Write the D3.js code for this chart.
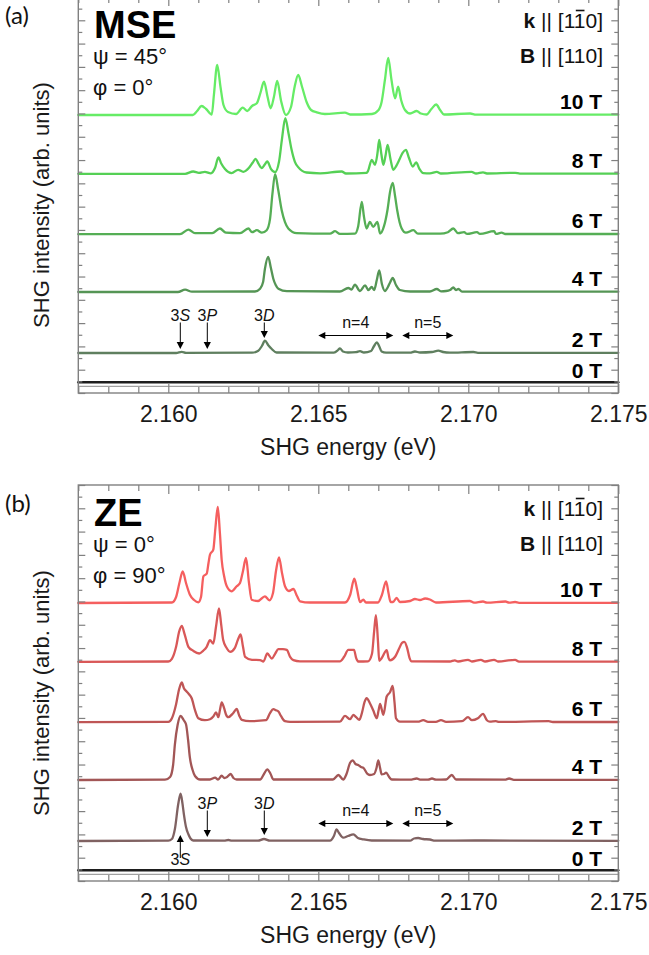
<!DOCTYPE html>
<html><head><meta charset="utf-8">
<script src="https://cdn.jsdelivr.net/npm/d3@7"></script>
<style>body{margin:0;background:#fff}svg{display:block}</style>
</head><body>
<svg id="c" width="649" height="955"></svg>
<script>
// ---------------- DATA ----------------
const fieldLabels = ["0 T","2 T","4 T","6 T","8 T","10 T"];
const offsets = [10.7, 40, 101, 158.8, 219.2, 278];   // vertical stacking offsets (arb. units)
const xTickValues = [2.160, 2.165, 2.170, 2.175];
const xTickLabels = ["2.160","2.165","2.170","2.175"];
const mseColors = ["#1e1e1e","#5f7f5f","#559555","#55ae55","#55d055","#66ec66"];
const zeColors  = ["#1e1e1e","#806262","#a25656","#bf5656","#d95858","#f55f5f"];

// Panel (a) MSE spectra  [energy eV, intensity arb.u.]
const mse0 = [[2.157,0],[2.175,0]];
const mse2 = [[2.1570,0],[2.16026,0],[2.16045,1.2],[2.16059,0.2],[2.16279,0.3],[2.16300,2.3],[2.16312,7],[2.16322,12.3],[2.16334,7.5],[2.16345,4],[2.16361,0.5],[2.16552,0.3],[2.16566,3],[2.16572,4.7],[2.16582,1.5],[2.16599,0.5],[2.16626,0.8],[2.16639,1.8],[2.16652,0.5],[2.16676,2],[2.16686,7],[2.16695,10.7],[2.16704,6],[2.16711,1.5],[2.16726,0.3],[2.16806,0.3],[2.16822,1.5],[2.16839,0.5],[2.16879,1],[2.16900,2.3],[2.16916,1],[2.16939,0.3],[2.17017,1],[2.17032,0.2],[2.1750,0.2]];
const mse4 = [[2.1570,0],[2.16032,0],[2.16056,2.3],[2.16079,0.3],[2.16289,0.5],[2.16306,3.3],[2.16316,10],[2.16322,23],[2.16333,35],[2.16342,24],[2.16350,13.3],[2.16358,7],[2.16367,3.3],[2.16395,0.8],[2.16572,0.5],[2.16600,4],[2.16611,2.5],[2.16622,7.3],[2.16639,1],[2.16656,6.7],[2.16667,2],[2.16678,5],[2.16686,2],[2.16695,12],[2.16703,21.7],[2.16712,8],[2.16722,1],[2.16732,5],[2.16740,10],[2.16748,14],[2.16759,7],[2.16772,2],[2.16806,0.5],[2.16872,0.5],[2.16895,3],[2.16909,0.7],[2.16926,1],[2.16939,2],[2.16950,4.5],[2.16959,2],[2.16967,3],[2.16979,0.3],[2.1750,0.3]];
const mse6 = [[2.1570,0],[2.16039,0],[2.16067,4.5],[2.16089,1],[2.16146,1],[2.16172,5.7],[2.16192,1.5],[2.16239,1],[2.16267,5.7],[2.16279,2],[2.16295,4],[2.16312,1.5],[2.16328,4],[2.16339,15],[2.16347,40],[2.16356,60],[2.16366,45],[2.16378,24],[2.16389,12],[2.16400,5.7],[2.16428,1],[2.16539,0.5],[2.16556,3],[2.16572,0.3],[2.16622,0.5],[2.16633,8],[2.16645,32.3],[2.16652,18],[2.16661,5.7],[2.16672,12.3],[2.16683,7.3],[2.16697,12.3],[2.16706,0.7],[2.16719,8],[2.16731,25],[2.16739,42],[2.16748,51.3],[2.16756,38],[2.16763,24],[2.16771,12],[2.16778,5.7],[2.16792,1.5],[2.16817,4],[2.16832,0.5],[2.16906,0.5],[2.16932,2],[2.16950,5.7],[2.16966,1],[2.16986,2],[2.16996,0.3],[2.17029,2],[2.17039,0.3],[2.17086,3],[2.17092,0.3],[2.17111,1.5],[2.17122,0.2],[2.1750,0.2]];
const mse8 = [[2.1570,0],[2.16056,0],[2.16083,2.3],[2.16102,1],[2.16122,2],[2.16142,0.5],[2.16156,6],[2.16167,16.3],[2.16177,10],[2.16189,4.7],[2.16211,0.7],[2.16233,4],[2.16250,2],[2.16269,6],[2.16281,11],[2.16291,15],[2.16301,10],[2.16311,5.7],[2.16321,9],[2.16330,12.3],[2.16342,5],[2.16356,1.7],[2.16369,12],[2.16379,35],[2.16390,55.7],[2.16401,40],[2.16411,24],[2.16422,12],[2.16433,6.7],[2.16461,1.3],[2.16506,0.5],[2.16578,2.3],[2.16592,0.3],[2.16661,1],[2.16666,3],[2.16678,14],[2.16689,9],[2.16697,20],[2.16703,34],[2.16710,20],[2.16717,9],[2.16724,18],[2.16731,29],[2.16741,14],[2.16750,4],[2.16760,8],[2.16770,14],[2.16781,21],[2.16792,24],[2.16802,16],[2.16815,7.3],[2.16826,11.3],[2.16837,5],[2.16850,0.7],[2.16872,0.5],[2.16895,2],[2.16909,0.3],[2.17011,2],[2.17026,0.3],[2.17049,1.5],[2.17062,0.3],[2.17156,1],[2.17172,0.2],[2.1750,0.2]];
const mse10 = [[2.1570,0],[2.16082,0],[2.16096,4],[2.16111,9],[2.16126,6],[2.16145,0.5],[2.16152,20],[2.16163,50],[2.16174,28],[2.16184,10],[2.16199,3],[2.16226,1],[2.16248,7.3],[2.16263,4],[2.16279,9],[2.16295,11.7],[2.16307,22],[2.16319,33.3],[2.16331,18],[2.16341,6.7],[2.16352,18],[2.16363,34],[2.16376,14],[2.16392,0],[2.16409,8],[2.16421,28],[2.16433,40],[2.16446,28],[2.16461,13],[2.16476,5],[2.16495,2.7],[2.16522,1],[2.16589,2.3],[2.16606,0.5],[2.16679,1],[2.16701,5],[2.16711,13],[2.16722,35],[2.16733,57],[2.16744,35],[2.16756,16.7],[2.16766,28.3],[2.16776,15],[2.16789,5],[2.16806,1.5],[2.16828,4],[2.16842,1.5],[2.16861,0.5],[2.16877,6],[2.16893,10.5],[2.16906,5],[2.16919,0.5],[2.17006,1.5],[2.17026,0.3],[2.1750,0.3]];

// Panel (b) ZE spectra
const ze0 = [[2.157,0],[2.175,0]];
const ze2 = [[2.1570,0],[2.16000,0.3],[2.16012,2],[2.16022,12],[2.16033,36.7],[2.16041,47.3],[2.16047,38],[2.16052,26.7],[2.16059,14],[2.16067,6.7],[2.16074,2.5],[2.16083,0.5],[2.16186,0.3],[2.16200,1],[2.16212,0.3],[2.16299,0.3],[2.16319,2],[2.16339,0.3],[2.16539,0.3],[2.16552,5],[2.16561,11.7],[2.16569,8],[2.16583,3.3],[2.16599,5],[2.16617,6.7],[2.16632,3],[2.16650,1.7],[2.16678,0.5],[2.16806,0.3],[2.16819,2.5],[2.16833,3],[2.16849,2],[2.16872,1.5],[2.16889,0.3],[2.17023,0.5],[2.1750,0.2]];
const ze4 = [[2.1570,0],[2.15989,0.3],[2.16006,3],[2.16016,15],[2.16022,35.7],[2.16031,55],[2.16041,64],[2.16051,60],[2.16059,55.7],[2.16066,40],[2.16072,22.3],[2.16081,10],[2.16089,4],[2.16106,0.5],[2.16139,0.5],[2.16156,2.3],[2.16166,0.5],[2.16178,4.3],[2.16187,2],[2.16196,3],[2.16208,6],[2.16217,2],[2.16228,0.5],[2.16306,0.5],[2.16319,6],[2.16330,10.7],[2.16341,6],[2.16350,0.5],[2.16549,0.5],[2.16567,5],[2.16583,0.5],[2.16594,6],[2.16606,17.3],[2.16615,19.7],[2.16624,16],[2.16633,15],[2.16642,13],[2.16650,12.3],[2.16663,6.3],[2.16672,5],[2.16686,6],[2.16694,12],[2.16700,19.7],[2.16706,12],[2.16711,5.7],[2.16719,6],[2.16726,7.3],[2.16736,3],[2.16745,0.5],[2.16806,0.3],[2.16828,1.5],[2.16839,0.3],[2.16866,0.3],[2.16879,1.5],[2.16892,0.3],[2.16926,0.5],[2.16945,5],[2.16959,0.5],[2.17122,0.3],[2.17136,1.5],[2.17152,0.2],[2.1750,0.2]];
const ze6 = [[2.1570,0],[2.16000,0.3],[2.16012,4],[2.16026,18],[2.16036,33],[2.16045,39.7],[2.16052,34],[2.16061,30.7],[2.16069,28],[2.16078,24],[2.16089,12],[2.16100,4],[2.16122,2],[2.16139,3],[2.16150,5.7],[2.16159,9.7],[2.16167,5],[2.16172,12],[2.16178,19.7],[2.16186,14],[2.16192,8],[2.16200,5],[2.16216,9],[2.16228,13.3],[2.16236,7],[2.16245,2.3],[2.16272,1],[2.16326,2],[2.16339,9],[2.16350,13],[2.16359,12],[2.16367,10.7],[2.16376,6],[2.16389,1],[2.16406,0.3],[2.16572,0.5],[2.16589,6.3],[2.16606,3],[2.16617,7.3],[2.16626,5],[2.16637,2.3],[2.16646,10],[2.16654,20],[2.16661,24],[2.16672,19],[2.16683,12],[2.16695,4],[2.16701,12],[2.16706,18.3],[2.16712,12],[2.16717,7.3],[2.16728,25.7],[2.16739,30],[2.16748,36.3],[2.16754,20],[2.16759,4],[2.16772,0.5],[2.16832,0.5],[2.16850,2],[2.16866,0.3],[2.16892,0.3],[2.16909,2],[2.16926,0.3],[2.16979,1],[2.16999,5],[2.17012,2],[2.17032,4],[2.17049,8.3],[2.17062,2],[2.17072,0.5],[2.17092,1],[2.17103,0.3],[2.17268,1],[2.17282,0.2],[2.1750,0.2]];
const ze8 = [[2.1570,0],[2.16000,0.3],[2.16012,3],[2.16026,15],[2.16036,30],[2.16045,36],[2.16054,28],[2.16067,15],[2.16083,11],[2.16103,8.3],[2.16116,11],[2.16128,15],[2.16139,21.7],[2.16150,18.3],[2.16159,35],[2.16169,53.3],[2.16176,38],[2.16183,21.7],[2.16194,14],[2.16206,10],[2.16222,14],[2.16232,22],[2.16241,27.3],[2.16249,15],[2.16256,5],[2.16279,2],[2.16306,1.7],[2.16317,0.3],[2.16330,8.3],[2.16345,3.3],[2.16356,8],[2.16367,12.7],[2.16382,12.7],[2.16395,12],[2.16406,5],[2.16417,1.7],[2.16439,0.5],[2.16572,0.5],[2.16586,5],[2.16600,12],[2.16619,12],[2.16626,4],[2.16633,0.3],[2.16666,0.5],[2.16679,8],[2.16686,30],[2.16692,46.7],[2.16699,20],[2.16703,1],[2.16712,4],[2.16728,11.7],[2.16734,4],[2.16739,1.5],[2.16756,5],[2.16769,13],[2.16779,19],[2.16787,20],[2.16796,14],[2.16804,4],[2.16811,0.5],[2.16939,0.3],[2.16955,1.5],[2.16966,0.3],[2.16999,2],[2.17012,0.3],[2.17042,2],[2.17056,0.3],[2.17086,2],[2.17099,0.3],[2.17156,2],[2.17169,0.2],[2.1750,0.2]];
const ze10 = [[2.1570,0],[2.16012,0.5],[2.16026,6],[2.16037,20],[2.16048,31.7],[2.16059,20],[2.16072,8.3],[2.16086,3],[2.16100,0.7],[2.16109,6],[2.16117,26.7],[2.16128,29.3],[2.16134,40],[2.16139,48.3],[2.16150,53.3],[2.16157,75],[2.16165,96],[2.16172,70],[2.16178,43],[2.16186,27],[2.16195,16.7],[2.16211,11.7],[2.16228,16.7],[2.16239,20],[2.16249,32],[2.16259,45],[2.16269,20],[2.16278,3.3],[2.16299,2],[2.16322,6.7],[2.16337,2.7],[2.16349,10],[2.16359,32],[2.16369,45.7],[2.16379,30],[2.16389,16.7],[2.16402,12],[2.16417,14],[2.16429,7],[2.16439,1.7],[2.16472,0.5],[2.16589,0.5],[2.16606,8],[2.16620,24.3],[2.16629,14],[2.16639,1],[2.16650,3.3],[2.16659,0.5],[2.16699,0.5],[2.16712,8],[2.16726,21.7],[2.16734,10],[2.16741,1],[2.16749,1],[2.16761,5],[2.16772,1],[2.16806,2],[2.16822,4],[2.16839,3],[2.16856,4.5],[2.16872,3.5],[2.16892,0.5],[2.17005,2],[2.17019,0.3],[2.17049,1.5],[2.17062,0.3],[2.17124,1.5],[2.17136,0.3],[2.17156,1],[2.17169,0.2],[2.1750,0.2]];

// annotation positions (energy)
const stateLabels = ["3","3","3"], stateLetters = ["S","P","D"];
const stateEnergies = [2.1604, 2.1613, 2.1632];
const bandLabels = ["n=4","n=5"];
const bandRanges = [[2.1650, 2.1675], [2.1678, 2.1695]];

// ---------------- DRAW ----------------
const svg = d3.select("#c");
const FONT = "'Liberation Sans', Arial, Helvetica, sans-serif";
const PANEL_H = 396, LEFT = 78.3, RIGHT = 618.3;
const x = d3.scaleLinear().domain([2.157, 2.175]).range([LEFT, RIGHT]);
const y = d3.scaleLinear().domain([0, 396]).range([PANEL_H, 0]);
const FRAME = "#808080";

function arrowHead(g, px, py, dir) { // tip at px,py
  const L = 7, W = 3.6;
  let pts;
  if (dir === "down") pts = [[px,py],[px-W,py-L],[px+W,py-L]];
  if (dir === "up") pts = [[px,py],[px-W,py+L],[px+W,py+L]];
  if (dir === "left") pts = [[px,py],[px+L,py-W],[px+L,py+W]];
  if (dir === "right") pts = [[px,py],[px-L,py-W],[px-L,py+W]];
  g.append("path").attr("d", "M" + pts.map(p=>p.join(",")).join("L") + "Z").attr("fill","#000");
}

function drawPanel(cfg) {
  const g = svg.append("g").attr("transform", `translate(0,${cfg.top})`);

  g.append("line").attr("x1", LEFT).attr("x2", RIGHT)
    .attr("y1", y(offsets[0]-4)).attr("y2", y(offsets[0]-4))
    .attr("stroke", "#8a8a8a").attr("stroke-width", 1);

  const line = d3.line().x(d => x(d[0])).y(d => y(d[1])).curve(d3.curveMonotoneX);
  cfg.series.forEach((s, i) => {
    g.append("path")
      .attr("d", line(s.map(d => [d[0], d[1] + offsets[i]])))
      .attr("fill", "none").attr("stroke", cfg.colors[i])
      .attr("stroke-width", i === 0 ? 2.4 : 2.3)
      .attr("stroke-linejoin", "round").attr("stroke-linecap", "round");
  });

  const minorX = d3.range(2157, 2176).map(v => v / 1000).filter(v => !xTickValues.some(t => Math.abs(t - v) < 1e-6));
  const styl = a => { a.select(".domain").remove(); a.selectAll("line").attr("stroke", FRAME).attr("stroke-width", 1.2); };
  g.append("g").attr("transform", `translate(0,${PANEL_H})`).call(d3.axisBottom(x).tickValues(minorX).tickSize(-6).tickFormat("")).call(styl);
  g.append("g").call(d3.axisTop(x).tickValues(minorX).tickSize(-6).tickFormat("")).call(styl);
  g.append("g").call(d3.axisTop(x).tickValues(xTickValues).tickSize(-9).tickFormat("")).call(styl);
  const bx = g.append("g").attr("transform", `translate(0,${PANEL_H})`)
    .call(d3.axisBottom(x).tickValues(xTickValues).tickSize(-9).tickPadding(13).tickFormat((d, i) => xTickLabels[i])).call(styl);
  bx.selectAll("text").attr("font-family", FONT).attr("font-size", 23).attr("fill", "#1a1a1a");

  const yAll = d3.range(0, 35).map(i => i * 396 / 34);
  const yMaj = yAll.filter((v, i) => i % 2 === 0), yMin = yAll.filter((v, i) => i % 2 === 1);
  g.append("g").attr("transform", `translate(${LEFT},0)`).call(d3.axisLeft(y).tickValues(yMaj).tickSize(-7).tickFormat("")).call(styl);
  g.append("g").attr("transform", `translate(${LEFT},0)`).call(d3.axisLeft(y).tickValues(yMin).tickSize(-4).tickFormat("")).call(styl);
  g.append("g").attr("transform", `translate(${RIGHT},0)`).call(d3.axisRight(y).tickValues(yMaj).tickSize(-7).tickFormat("")).call(styl);
  g.append("g").attr("transform", `translate(${RIGHT},0)`).call(d3.axisRight(y).tickValues(yMin).tickSize(-4).tickFormat("")).call(styl);

  g.append("rect").attr("x", LEFT).attr("y", 0).attr("width", RIGHT - LEFT).attr("height", PANEL_H)
    .attr("fill", "none").attr("stroke", FRAME).attr("stroke-width", 1.4);

  g.append("text").attr("x", (LEFT + RIGHT) / 2).attr("y", PANEL_H + 62).attr("text-anchor", "middle")
    .attr("font-family", FONT).attr("font-size", 23).attr("fill", "#1a1a1a").text("SHG energy (eV)");
  g.append("text").attr("transform", `translate(49,${cfg.yTitleY}) rotate(-90)`).attr("text-anchor", "middle")
    .attr("font-family", FONT).attr("font-size", 22).attr("fill", "#1a1a1a").text("SHG intensity (arb. units)");

  g.append("text").attr("x", 5).attr("y", 27).attr("font-family", "Lato, 'Open Sans', sans-serif")
    .attr("font-size", 24).attr("fill", "#111").text(cfg.letter);

  g.append("text").attr("x", 94).attr("y", 41).attr("font-family", FONT).attr("font-weight", "bold")
    .attr("font-size", 38).attr("fill", "#000").text(cfg.title);
  g.append("text").attr("x", 93).attr("y", 67).attr("font-family", FONT).attr("font-size", 22).attr("fill", "#111").text(cfg.psi);
  g.append("text").attr("x", 93).attr("y", 98).attr("font-family", FONT).attr("font-size", 22).attr("fill", "#111").text(cfg.phi);

  const kt = g.append("text").attr("x", 603).attr("y", 31).attr("text-anchor", "end")
    .attr("font-family", FONT).attr("font-size", 21).attr("fill", "#111");
  kt.append("tspan").attr("font-weight", "bold").text("k");
  kt.append("tspan").text(" || [110]");
  const ext = kt.node().getExtentOfChar(7);
  g.append("line").attr("x1", ext.x + 2).attr("x2", ext.x + ext.width - 1)
    .attr("y1", 31 - 17.5).attr("y2", 31 - 17.5).attr("stroke", "#111").attr("stroke-width", 1.6);
  const bt = g.append("text").attr("x", 603).attr("y", 66).attr("text-anchor", "end")
    .attr("font-family", FONT).attr("font-size", 21).attr("fill", "#111");
  bt.append("tspan").attr("font-weight", "bold").text("B");
  bt.append("tspan").text(" || [110]");

  fieldLabels.forEach((t, i) => {
    g.append("text").attr("x", 602).attr("y", y(offsets[i]) - (i === 0 ? 4 : 6)).attr("text-anchor", "end")
      .attr("font-family", FONT).attr("font-weight", "bold").attr("font-size", 21).attr("fill", "#000").text(t);
  });

  const base = offsets[1];
  const ann = g.append("g");
  stateEnergies.forEach((e, i) => {
    const px = x(e);
    if (cfg.sBelow && i === 0) {
      const t = ann.append("text").attr("x", px).attr("y", y(base - 23.5)).attr("text-anchor", "middle")
        .attr("font-family", FONT).attr("font-size", 16).attr("fill", "#111");
      t.append("tspan").text(stateLabels[i]);
      t.append("tspan").attr("font-style", "italic").text(stateLetters[i]);
      ann.append("line").attr("x1", px).attr("x2", px).attr("y1", y(base - 17)).attr("y2", y(base + 3))
        .attr("stroke", "#000").attr("stroke-width", 1);
      arrowHead(ann, px, y(base + 6), "up");
      return;
    }
    const t = ann.append("text").attr("x", px).attr("y", y(base + 32.5)).attr("text-anchor", "middle")
      .attr("font-family", FONT).attr("font-size", 16).attr("fill", "#111");
    t.append("tspan").text(stateLabels[i]);
    t.append("tspan").attr("font-style", "italic").text(stateLetters[i]);
    const tip = cfg.tips[i];
    ann.append("line").attr("x1", px).attr("x2", px).attr("y1", y(base + 30.5)).attr("y2", y(base + tip + 3))
      .attr("stroke", "#000").attr("stroke-width", 1);
    arrowHead(ann, px, y(base + tip), "down");
  });
  bandRanges.forEach((r, i) => {
    const x1 = x(r[0]), x2 = x(r[1]), yy = y(base + 17.5);
    ann.append("line").attr("x1", x1 + 3).attr("x2", x2 - 3).attr("y1", yy).attr("y2", yy)
      .attr("stroke", "#000").attr("stroke-width", 1);
    arrowHead(ann, x1, yy, "left");
    arrowHead(ann, x2, yy, "right");
    ann.append("text").attr("x", (x1 + x2) / 2).attr("y", y(base + 25)).attr("text-anchor", "middle")
      .attr("font-family", FONT).attr("font-size", 16).attr("fill", "#111").text(bandLabels[i]);
  });
}

drawPanel({ top: -3, letter: "(a)", title: "MSE", psi: "ψ = 45°", phi: "φ = 0°",
  series: [mse0, mse2, mse4, mse6, mse8, mse10], colors: mseColors, yTitleY: 208,
  tips: [4, 4, 15], sBelow: false });
drawPanel({ top: 485, letter: "(b)", title: "ZE", psi: "ψ = 0°", phi: "φ = 90°",
  series: [ze0, ze2, ze4, ze6, ze8, ze10], colors: zeColors, yTitleY: 208,
  tips: [4, 4, 6], sBelow: true });
</script>
</body></html>
